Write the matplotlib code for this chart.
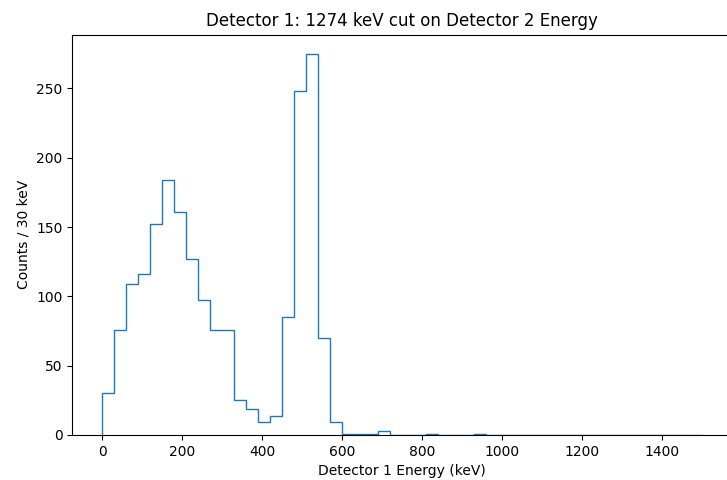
import numpy as np
import matplotlib
matplotlib.use("Agg")
import matplotlib.pyplot as plt

# 30 keV bins from 0 to 1500 keV
bin_width = 30
bin_edges = np.arange(0, 1500 + bin_width, bin_width)
counts = [30, 76, 109, 116, 152, 184, 161, 127, 97, 76,
          76, 25, 19, 9, 14, 85, 248, 275, 70, 9,
          1, 1, 1, 3, 0, 0, 0, 1, 0, 0,
          0, 1, 0, 0, 0, 0, 0, 0, 0, 0,
          0, 0, 0, 0, 0, 0, 0, 0, 0, 0]
bin_centers = bin_edges[:-1] + bin_width / 2

fig = plt.figure(figsize=(7.27, 4.80), dpi=100)
ax = fig.add_axes([0.0994, 0.0938, 0.9075, 0.834])

ax.hist(bin_centers, bins=bin_edges, weights=counts, histtype='step', color='C0')

ax.set_title('Detector 1: 1274 keV cut on Detector 2 Energy')
ax.set_xlabel('Detector 1 Energy (keV)')
ax.set_ylabel('Counts / 30 keV')
ax.set_xticks(np.arange(0, 1401, 200))
ax.set_yticks(np.arange(0, 251, 50))

fig.savefig('out.png', dpi=100)
